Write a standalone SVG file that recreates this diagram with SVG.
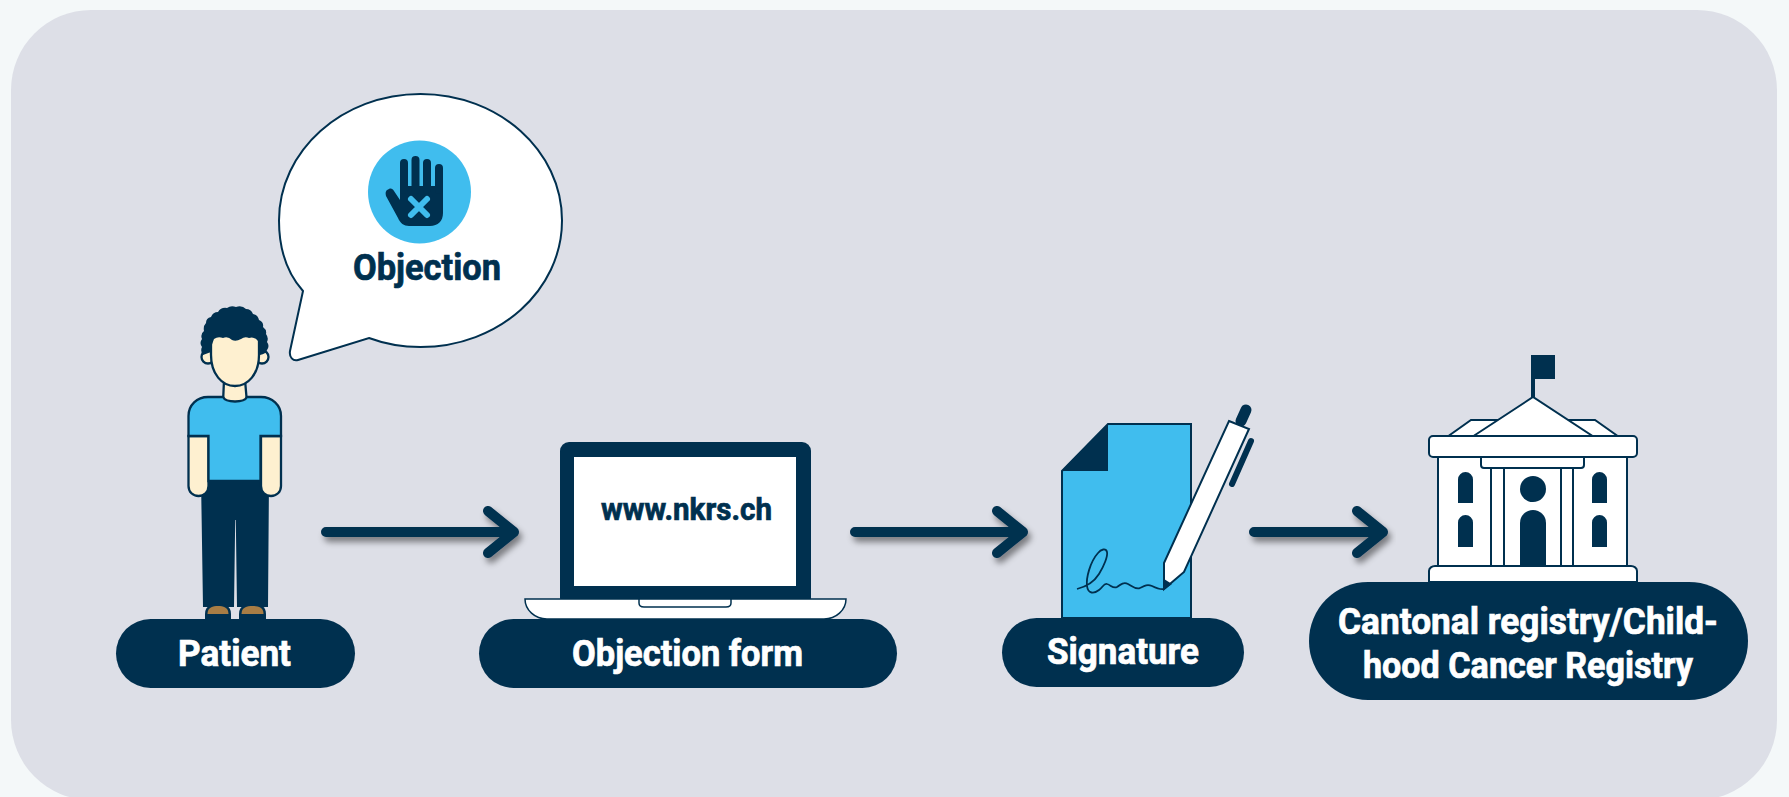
<svg xmlns="http://www.w3.org/2000/svg" width="1789" height="797" viewBox="0 0 1789 797">
<style>
.n{fill:#00304f}
.w{fill:#fff}
.o{stroke:#00304f;stroke-width:2.300}
.t{font-family:Roboto,"Liberation Sans",sans-serif;font-weight:700;font-size:36px;stroke-width:.7px;paint-order:stroke}
.lt{fill:#fff;stroke:#fff}
.dt{fill:#00304f;stroke:#00304f}
.arrow{fill:none;stroke:#00304f;stroke-width:10;stroke-linecap:round;stroke-linejoin:round;filter:url(#sh)}
.b{fill:#40bdee}
.c{fill:#fef0d0}
</style>
<defs>
<filter id="sh" x="-10%" y="-60%" width="120%" height="220%"><feDropShadow dx="3" dy="5" stdDeviation="3" flood-color="#000" flood-opacity=".45"/></filter>
</defs>
<rect width="1789" height="797" fill="#f4f8f9"/>
<rect x="11" y="10" width="1766" height="790" rx="80" fill="#dddfe7"/>

<g id="connectors">
<path class="arrow" d="M326 532H512M488 511L514 532L488 553"/>
<path class="arrow" d="M855 532H1021M997 511L1023 532L997 553"/>
<path class="arrow" d="M1254 532H1381M1357 511L1383 532L1357 553"/>
</g>

<g id="bubble">
<path class="w" stroke="#00304f" stroke-width="2" d="M303 291C287 273 279 248 279 220.500C279 150.600 342.400 94 420.500 94C498.600 94 562 150.600 562 220.500C562 290.400 498.600 347 420.500 347C403 347 385 344 369 338L298 360C293 361.500 289 357 290 351Z"/>
<circle class="b" cx="419.500" cy="192" r="51.500"/>
<path class="n" d="M400 186L443 186V213C443 221 438 226 430 226H409C404 226 400 223 398 218L386 196C385 192 386 190 389 189C391 188 393 189 394 191L400 200Z"/>
<g fill="none" stroke="#00304f" stroke-width="8" stroke-linecap="round">
<path d="M404 163V190M415.500 160V190M427 163V190M439 168V190"/>
</g>
<path d="M411 199L427 215M427 199L411 215" stroke="#40bdee" stroke-width="6" stroke-linecap="round"/>
<text class="t dt" x="353" y="280" textLength="148" lengthAdjust="spacingAndGlyphs">Objection</text>
</g>

<g id="patient">
<circle class="c o" cx="208" cy="357" r="6.500"/>
<circle class="c o" cx="262" cy="357" r="6.500"/>
<path class="c o" d="M224 380L223 403H247L245 380Z"/>
<path class="c o" d="M211 335H259V355C259 374 248 386 235 386C222 386 211 374 211 355Z"/>
<path class="n" d="M203 355Q200 351 202 347Q199 343 202 339Q200 334 204 331Q203 326 206 323Q206 318 211 317Q213 312 218 312Q221 307 227 308Q231 305 236 307Q242 305 246 309Q251 309 253 314Q258 315 259 320Q264 322 263 327Q267 330 266 334Q269 338 267 342Q270 346 267 350Q266 354 260 355L258 341Q254 336 249 338Q245 336 241 339Q236 342 232 340Q228 336 223 338Q218 336 214 339Q211 345 211 352Z"/>
<path class="n" d="M201 478H269L268 607H237L235.800 520H235.200L234 607H203Z"/>
<path class="c o" d="M188.500 436H208.500V486C208.500 492 204 496 198.500 496C193 496 188.500 492 188.500 486Z"/>
<path class="c o" d="M261 436H281V486C281 492 276.500 496 271 496C265.500 496 261 492 261 486Z"/>
<path class="b o" d="M188.500 436V416C188.500 405 197 397 208 397H223C226 403 244 403 247 397H261C272 397 281 405 281 416V436H260.500V481H208.500V436Z"/>
<path class="n" d="M205 619V614C205 605 212 604 218 604C224 604 231 605 231 614V619Z"/>
<path d="M207.500 614C207.500 607 213 606 218 606C223 606 228.500 607 228.500 614Z" fill="#a87d45"/>
<path class="n" d="M239 619V614C239 605 246 604 252.500 604C259 604 266 605 266 614V619Z"/>
<path d="M241.500 614C241.500 607 247 606 252.500 606C258 606 263.500 607 263.500 614Z" fill="#a87d45"/>
<rect class="n" x="116" y="619" width="239" height="69" rx="34.500"/>
<text class="t lt" x="178" y="666" textLength="113" lengthAdjust="spacingAndGlyphs">Patient</text>
</g>

<g id="objection-form">
<rect class="n" x="560" y="442" width="251" height="165" rx="9"/>
<rect class="w" x="574" y="457" width="222" height="129"/>
<text class="t dt" x="601" y="520" style="font-size:31px" textLength="171" lengthAdjust="spacingAndGlyphs">www.nkrs.ch</text>
<path class="w" stroke="#00304f" stroke-width="1.500" d="M525 599H846C846 610 836 619 824 619H547C535 619 525 610 525 599Z"/>
<path class="w" stroke="#00304f" stroke-width="1.500" d="M639 599H731V603C731 606 729 607 726 607H644C641 607 639 606 639 603Z"/>
<rect class="n" x="479" y="619" width="418" height="69" rx="34.500"/>
<text class="t lt" x="572" y="666" textLength="231" lengthAdjust="spacingAndGlyphs">Objection form</text>
</g>

<g id="signature">
<path class="b" stroke="#00304f" stroke-width="2" d="M1108 424H1191V618H1062V471Z"/>
<path class="n" d="M1108 424V471H1062Z"/>
<path fill="none" stroke="#00304f" stroke-width="1.800" d="M1077 589C1085 587 1094 582 1099 574C1104 566 1108 556 1107 552C1106 548 1101 549 1098 553C1090 562 1086 578 1087 586C1088 594 1094 594 1099 590C1103 587 1104 583 1107 584C1111 585 1113 589 1117 587C1121 584 1124 582 1128 584C1132 586 1136 590 1140 588C1144 586 1147 584 1152 586C1156 588 1160 590 1164 589"/>
<path d="M1241 421L1246 410" stroke="#00304f" stroke-width="11" stroke-linecap="round" fill="none"/>
<path fill="none" stroke="#00304f" stroke-width="6" stroke-linecap="round" d="M1232 484L1251 441"/>
<path class="w" stroke="#00304f" stroke-width="2" d="M1229 421L1249 429L1184 572L1164 589V563Z"/>
<path class="n" d="M1164 579L1172 584L1164 590Z"/>
<rect class="n" x="1002" y="618" width="242" height="69" rx="34.500"/>
<text class="t lt" x="1047" y="664" textLength="152" lengthAdjust="spacingAndGlyphs">Signature</text>
</g>

<g id="registry">
<path class="n" d="M1531 355H1555V379H1535V397H1531Z"/>
<g class="w" stroke="#00304f" stroke-width="2">
<path d="M1447 437L1471 420H1595L1619 437Z"/>
<path d="M1472 437L1533 397L1594 437Z"/>
<rect x="1438" y="457" width="189" height="110"/>
<rect x="1429" y="436" width="208" height="21" rx="4"/>
<path d="M1481 457H1584V465C1584 467 1583 468 1581 468H1484C1482 468 1481 467 1481 465Z"/>
<path fill="none" d="M1491 468V566M1504 468V566M1561 468V566M1573 468V566"/>
<path d="M1429 582V571C1429 568 1432 566 1435 566H1631C1634 566 1637 568 1637 571V582Z"/>
</g>
<g class="n">
<path d="M1458 503V479.500A7.500 7.500 0 0 1 1473 479.500V503Z"/>
<path d="M1458 547V522.500A7.500 7.500 0 0 1 1473 522.500V547Z"/>
<path d="M1592 503V479.500A7.500 7.500 0 0 1 1607 479.500V503Z"/>
<path d="M1592 547V522.500A7.500 7.500 0 0 1 1607 522.500V547Z"/>
<circle cx="1533" cy="489" r="13"/>
<path d="M1520 566V523A13 13 0 0 1 1546 523V566Z"/>
</g>
<rect class="n" x="1309" y="582" width="439" height="118" rx="59"/>
<text class="t lt" x="1338" y="634" textLength="380" lengthAdjust="spacingAndGlyphs">Cantonal registry/Child-</text>
<text class="t lt" x="1363" y="678" textLength="330" lengthAdjust="spacingAndGlyphs">hood Cancer Registry</text>
</g>
</svg>
